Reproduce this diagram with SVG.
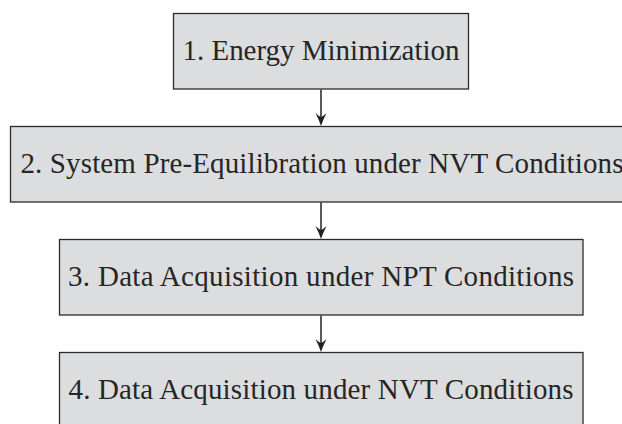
<svg xmlns="http://www.w3.org/2000/svg" width="622" height="424" viewBox="0 0 622 424">
  <style>
    .box { fill: #dcdddf; stroke: #2b2b2b; stroke-width: 1.3; }
    .label { font-family: "Liberation Serif", "Times New Roman", serif; font-size: 29px; fill: #262626; text-anchor: middle; }
    .edge { stroke: #222; stroke-width: 1.5; fill: none; }
    .tip { fill: #222; }
  </style>
  <defs>
    <!-- curved arrowhead, tip at (0,0), pointing down -->
    <path id="head" class="tip" d="M-5.5,-13 Q-2,-6 0,0 Q2,-6 5.5,-13 Q2,-9.5 0,-9 Q-2,-9.5 -5.5,-13 Z"/>
  </defs>
  <rect width="622" height="424" fill="#ffffff"/>

  <g id="connectors">
    <line class="edge" x1="321" y1="89.5" x2="321" y2="122"/>
    <use href="#head" x="321" y="126"/>
    <line class="edge" x1="321" y1="202.5" x2="321" y2="235"/>
    <use href="#head" x="321" y="239"/>
    <line class="edge" x1="321" y1="315.5" x2="321" y2="348"/>
    <use href="#head" x="321" y="352"/>
  </g>

  <g id="step1">
    <rect class="box" x="173.5" y="13.5" width="295" height="75.5"/>
    <text class="label" x="321" y="59.5" textLength="277" lengthAdjust="spacing">1. Energy Minimization</text>
  </g>

  <g id="step2">
    <rect class="box" x="10.5" y="126.5" width="622" height="75.5"/>
    <text class="label" x="322" y="172.5" textLength="603" lengthAdjust="spacing">2. System Pre-Equilibration under NVT Conditions</text>
  </g>

  <g id="step3">
    <rect class="box" x="59.5" y="239.5" width="523.5" height="75.5"/>
    <text class="label" x="321" y="285.5" textLength="506" lengthAdjust="spacing">3. Data Acquisition under NPT Conditions</text>
  </g>

  <g id="step4">
    <rect class="box" x="59.5" y="352.5" width="523.5" height="76"/>
    <text class="label" x="321" y="398.5" textLength="505" lengthAdjust="spacing">4. Data Acquisition under NVT Conditions</text>
  </g>
</svg>
